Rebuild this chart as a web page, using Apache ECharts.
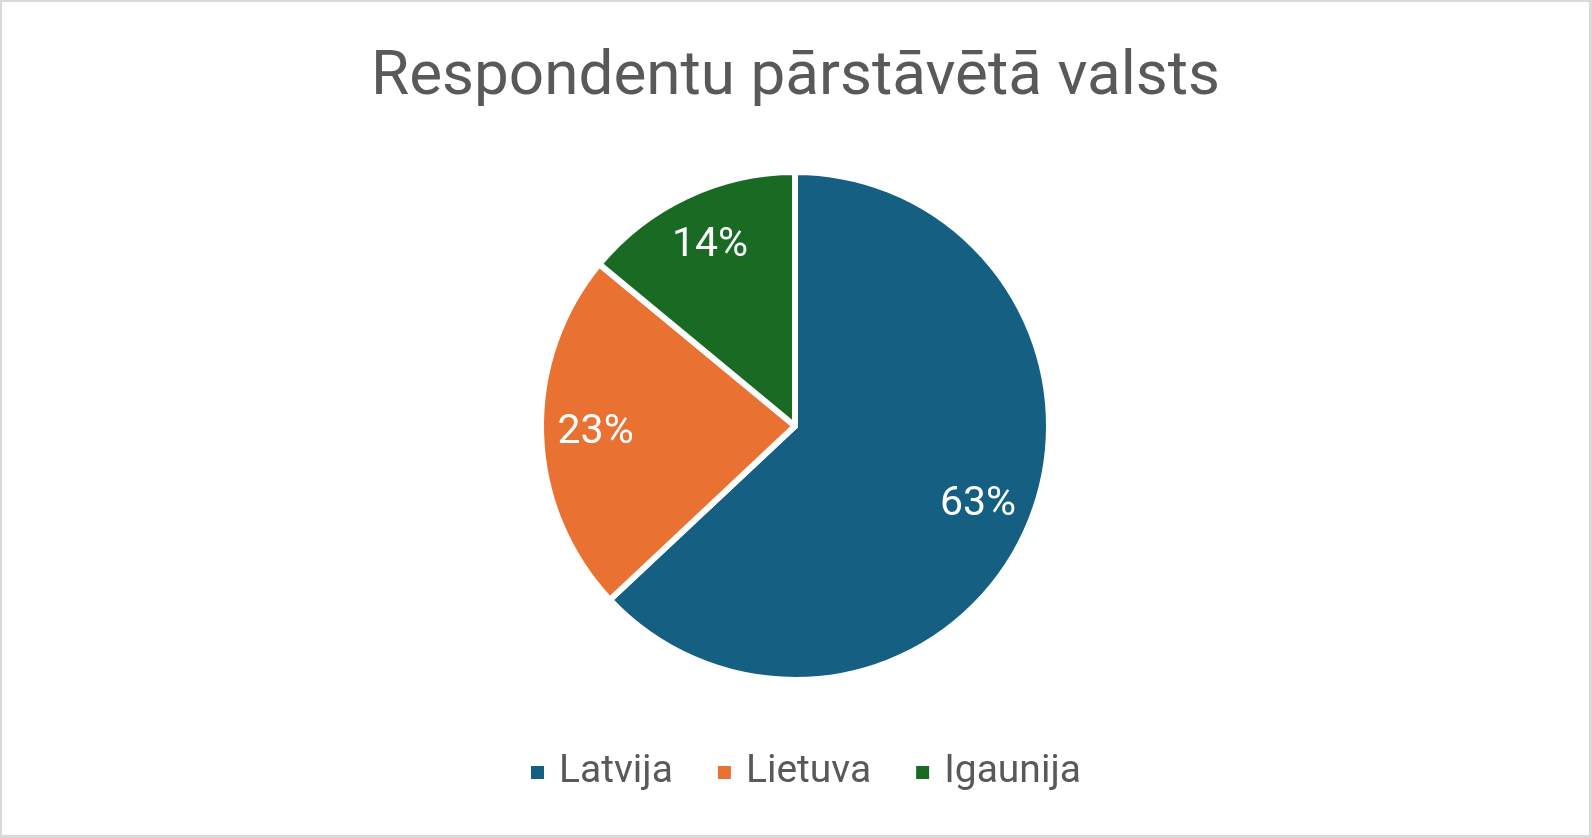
<!DOCTYPE html>
<html>
<head>
<meta charset="utf-8">
<script src="https://cdn.jsdelivr.net/npm/echarts@6/dist/echarts.min.js"></script>
<style>
html,body{margin:0;padding:0;background:#fff;}
#c{width:1592px;height:838px;box-sizing:border-box;border-style:solid;border-color:#d9d9d9;border-width:2px 3px 3px 2px;}
</style>
</head>
<body>
<div id="c"></div>
<script>
const titleText = 'Respondentu pārstāvētā valsts';
const categories = ['Latvija', 'Lietuva', 'Igaunija'];
const values = [63, 23, 14];
const colors = ['#156082', '#E97132', '#196B24'];

const font = 'Roboto, "Open Sans", sans-serif';
const data = categories.map((n, i) => ({ name: n, value: values[i], itemStyle: { color: colors[i] } }));

const chart = echarts.init(document.getElementById('c'));
chart.setOption({
  animation: false,
  title: {
    text: titleText,
    left: 'center',
    top: 40,
    textStyle: { fontFamily: font, fontSize: 62, fontWeight: 'normal', color: '#595959' }
  },
  legend: {
    data: categories,
    bottom: 38,
    left: 522,
    icon: 'rect',
    itemWidth: 15,
    itemHeight: 15,
    itemGap: 43,
    textStyle: { fontFamily: font, fontSize: 39, color: '#595959', padding: [0, 0, 0, 9] }
  },
  series: [
    {
      type: 'pie',
      center: [793, 424],
      radius: [0, 254],
      startAngle: 90,
      clockwise: true,
      data: data,
      itemStyle: { borderColor: '#ffffff', borderWidth: 6 },
      label: { show: false },
      labelLine: { show: false },
      emphasis: { disabled: true }
    },
    {
      type: 'pie',
      center: [793, 424],
      radius: [140, 253],
      startAngle: 90,
      clockwise: true,
      silent: true,
      data: data.map(d => ({ name: d.name, value: d.value })),
      itemStyle: { color: 'rgba(0,0,0,0)', borderWidth: 0 },
      label: {
        show: true,
        position: 'inside',
        formatter: p => p.value + '%',
        fontFamily: font,
        fontSize: 41,
        color: '#ffffff'
      },
      labelLine: { show: false },
      emphasis: { disabled: true }
    }
  ]
});
</script>
</body>
</html>
